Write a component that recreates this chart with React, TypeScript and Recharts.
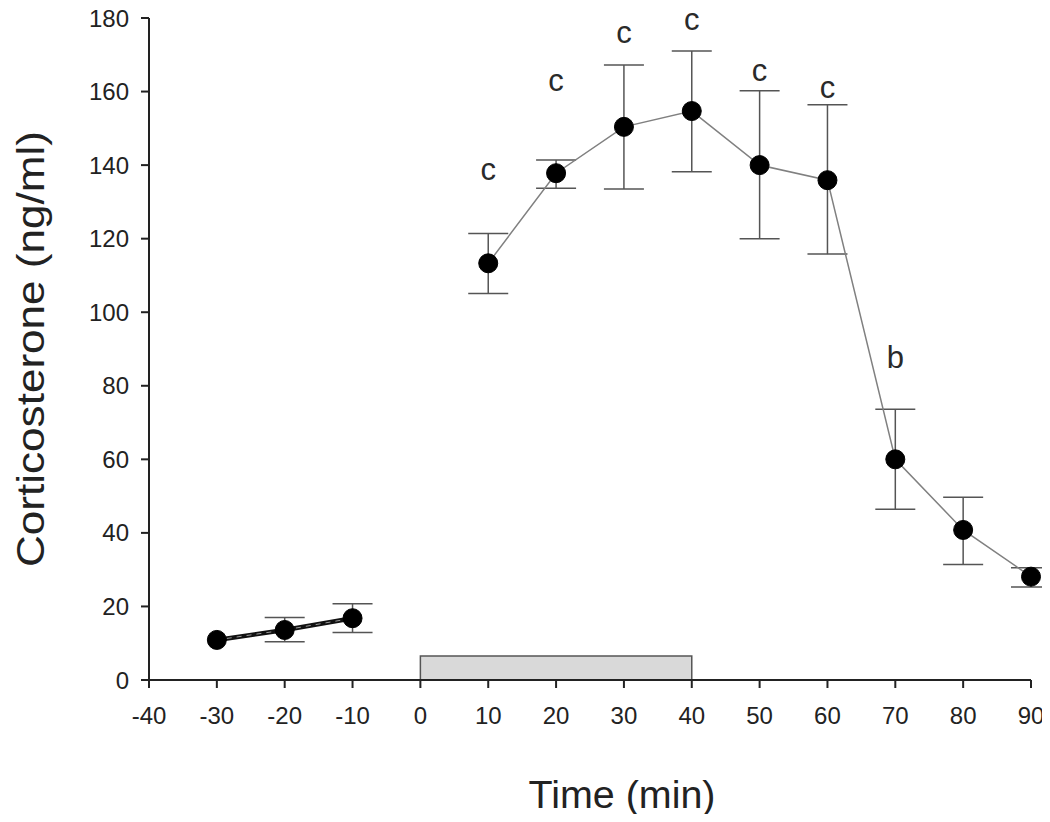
import React from 'react';
import { ComposedChart, Line, XAxis, YAxis, ErrorBar, ReferenceArea, Scatter, Label } from 'recharts';

const preTimes = [-30, -20, -10];
const preMeans = [10.9, 13.6, 16.8];
const preLower: (number | null)[] = [null, 10.4, 12.9];
const preUpper: (number | null)[] = [null, 17.0, 20.7];

const postTimes = [10, 20, 30, 40, 50, 60, 70, 80, 90];
const postMeans = [113.3, 137.8, 150.4, 154.7, 140.0, 135.9, 60.0, 40.8, 28.1];
const postLower = [105.1, 133.7, 133.5, 138.2, 120.0, 115.8, 46.4, 31.4, 25.3];
const postUpper = [121.4, 141.4, 167.2, 171.0, 160.2, 156.4, 73.6, 49.7, 30.5];

const letterTimes = [10, 20, 30, 40, 50, 60, 70];
const letterLevels = [138.7, 163.0, 176.0, 179.7, 165.6, 161.2, 87.7];
const letterTexts = ['c', 'c', 'c', 'c', 'c', 'c', 'b'];

const xTicks = [-40, -30, -20, -10, 0, 10, 20, 30, 40, 50, 60, 70, 80, 90];
const yTicks = [0, 20, 40, 60, 80, 100, 120, 140, 160, 180];

const stressStart = 0;
const stressEnd = 40;
const stressHeight = 6.5;

const xTitle = 'Time (min)';
const yTitle = 'Corticosterone (ng/ml)';

const makeErr = (m: number, lo: number | null, hi: number | null) =>
  lo == null || hi == null ? undefined : [m - lo, hi - m];

const preData = preTimes.map((t, i) => ({
  t,
  v: preMeans[i],
  err: makeErr(preMeans[i], preLower[i], preUpper[i]),
}));
const postData = postTimes.map((t, i) => ({
  t,
  v: postMeans[i],
  err: makeErr(postMeans[i], postLower[i], postUpper[i]),
}));
const letterData = letterTimes.map((t, i) => ({ t, v: letterLevels[i], s: letterTexts[i] }));

const FONT = '"Liberation Sans", Arial, sans-serif';
const INK = '#222';

const LetterShape = (props: any) => {
  const { cx, cy, payload } = props;
  return (
    <text x={cx} y={cy} textAnchor="middle" dominantBaseline="central" fontFamily={FONT} fontSize={31} fill="#2a2a2a">
      {payload.s}
    </text>
  );
};

const XTitle = (props: any) => {
  const vb = props.viewBox || {};
  const x = vb.x + vb.width / 2 + 32;
  const y = vb.y + vb.height;
  return (
    <text x={x} y={y} textAnchor="middle" fontFamily={FONT} fontSize={38} fill={INK} textLength={187} lengthAdjust="spacingAndGlyphs">
      {xTitle}
    </text>
  );
};

const YTitle = (props: any) => {
  const vb = props.viewBox || {};
  const x = 36;
  const y = vb.y + vb.height / 2;
  return (
    <text
      x={x}
      y={y}
      transform={`rotate(-90 ${x} ${y})`}
      textAnchor="middle"
      fontFamily={FONT}
      fontSize={38}
      fill={INK}
      textLength={436}
      lengthAdjust="spacingAndGlyphs"
    >
      {yTitle}
    </text>
  );
};

const dotStyle = { r: 9.5, fill: '#000', stroke: '#000', strokeWidth: 1 };

export default function App() {
  return (
    <div style={{ width: 1042, height: 814, marginTop: -8 }}>
      <ComposedChart width={1042} height={822} margin={{ top: 18, right: 19, left: 0, bottom: 14 }}>
        <XAxis
          type="number"
          dataKey="t"
          domain={[-40, 90]}
          ticks={xTicks}
          tickSize={8}
          tickMargin={19}
          height={128}
          axisLine={{ stroke: INK, strokeWidth: 2 }}
          tickLine={{ stroke: INK, strokeWidth: 2 }}
          tick={{ fill: INK, fontSize: 24, fontFamily: FONT }}
        >
          <Label content={XTitle} position="insideBottom" />
        </XAxis>
        <YAxis
          type="number"
          domain={[0, 180]}
          ticks={yTicks}
          width={141}
          tickSize={8}
          tickMargin={12}
          axisLine={{ stroke: INK, strokeWidth: 2 }}
          tickLine={{ stroke: INK, strokeWidth: 2 }}
          tick={{ fill: INK, fontSize: 24, fontFamily: FONT }}
        >
          <Label content={YTitle} position="insideLeft" />
        </YAxis>
        <ReferenceArea x1={stressStart} x2={stressEnd} y1={0} y2={stressHeight} fill="#d9d9d9" fillOpacity={1} stroke="#555" strokeWidth={1.5} />
        <Line data={preData} dataKey="v" stroke="#111" strokeWidth={4.5} isAnimationActive={false} dot={false} activeDot={false} />
        <Line data={preData} dataKey="v" stroke="#9a9a9a" strokeWidth={1} strokeDasharray="5 5" isAnimationActive={false} dot={false} activeDot={false} />
        <Line data={preData} dataKey="v" stroke="none" isAnimationActive={false} dot={dotStyle} activeDot={false}>
          <ErrorBar dataKey="err" width={20} stroke="#555" strokeWidth={1.5} direction="y" />
        </Line>
        <Line data={postData} dataKey="v" stroke="#808080" strokeWidth={1.5} isAnimationActive={false} dot={dotStyle} activeDot={false}>
          <ErrorBar dataKey="err" width={20} stroke="#555" strokeWidth={1.5} direction="y" />
        </Line>
        <Scatter data={letterData} dataKey="v" isAnimationActive={false} shape={LetterShape} />
      </ComposedChart>
    </div>
  );
}
